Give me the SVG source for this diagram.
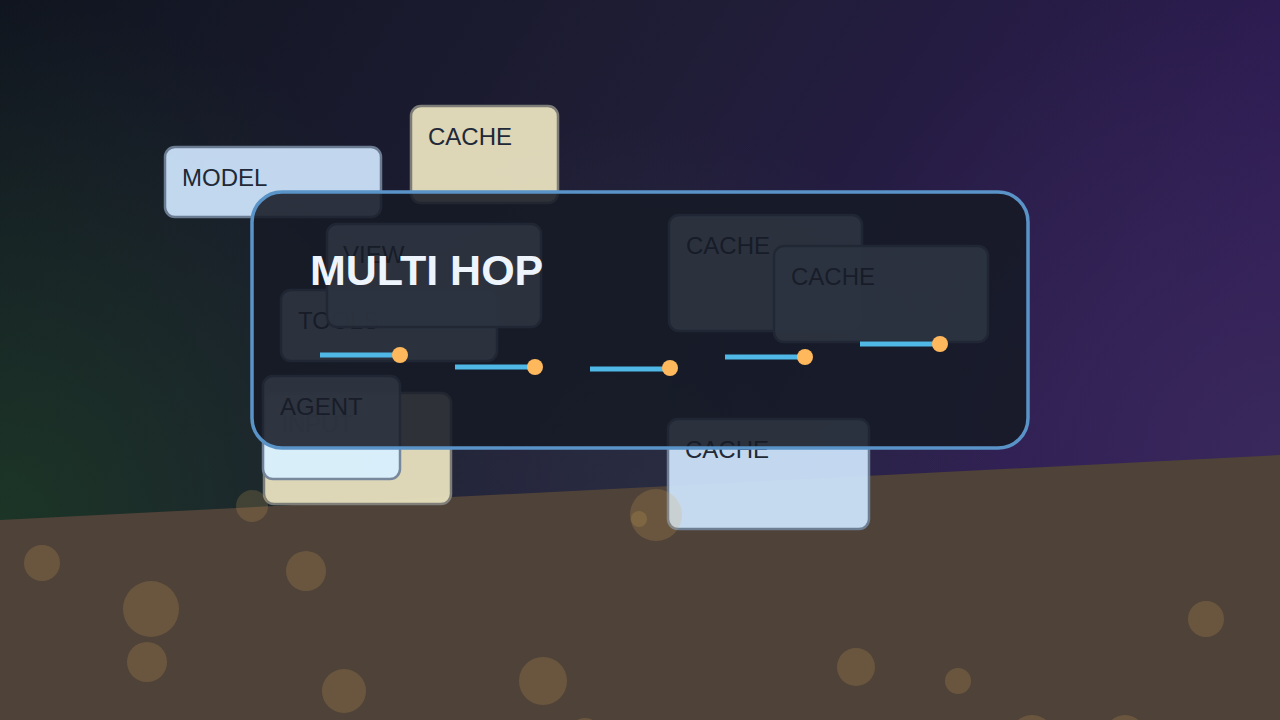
<svg xmlns="http://www.w3.org/2000/svg" width="1280" height="720" viewBox="0 0 1280 720">
<defs>
<linearGradient id="sky" x1="0" y1="0" x2="1" y2="0.35">
<stop offset="0" stop-color="#10151f"/>
<stop offset="0.5" stop-color="#1f1d36"/>
<stop offset="1" stop-color="#2e1a56"/>
</linearGradient>
<radialGradient id="glowG" cx="0" cy="520" r="520" gradientUnits="userSpaceOnUse">
<stop offset="0" stop-color="#1d3a26" stop-opacity="0.85"/>
<stop offset="1" stop-color="#1d3a26" stop-opacity="0"/>
</radialGradient>
<radialGradient id="glowP" cx="1280" cy="460" r="500" gradientUnits="userSpaceOnUse">
<stop offset="0" stop-color="#3c2c5c" stop-opacity="0.8"/>
<stop offset="1" stop-color="#3c2c5c" stop-opacity="0"/>
</radialGradient>
<radialGradient id="glowM" cx="640" cy="480" r="360" gradientUnits="userSpaceOnUse">
<stop offset="0" stop-color="#2a3040" stop-opacity="0.8"/>
<stop offset="1" stop-color="#2a3040" stop-opacity="0"/>
</radialGradient>
</defs>
<style>
.node{opacity:0.93}
.node rect{stroke-width:2.5}
.blue rect{fill:#cfe6fd;stroke:#71839a}
.lblue rect{fill:#d8f0ff;stroke:#71839a}
.sand rect{fill:#ece5c2;stroke:#84847e}
.node text{font-family:"Liberation Sans",Arial,sans-serif;font-size:24px;fill:#222a38}
.speck{fill:#d7aa5a;fill-opacity:0.2}
.wire{stroke:#4fb8e6;stroke-width:5;fill:none}
.dot{fill:#ffb85c}
</style>
<rect width="1280" height="720" fill="url(#sky)"/>
<rect width="1280" height="720" fill="url(#glowG)"/>
<rect width="1280" height="720" fill="url(#glowP)"/>
<rect width="1280" height="720" fill="url(#glowM)"/>
<polygon points="0,520 1280,455 1280,720 0,720" fill="#4f4238"/>

<g id="node-model" class="node blue"><rect x="165" y="147" width="216" height="70" rx="10"/><text x="182" y="186">MODEL</text></g>
<g id="node-cache-top" class="node sand"><rect x="411" y="106" width="147" height="97" rx="10"/><text x="428" y="145">CACHE</text></g>
<g id="node-tools" class="node blue"><rect x="281" y="290" width="216" height="71" rx="10"/><text x="298" y="329">TOOLS</text></g>
<g id="node-view" class="node blue"><rect x="327" y="224" width="214" height="103" rx="10"/><text x="343" y="263">VIEW</text></g>
<g id="node-input" class="node sand"><rect x="264" y="393" width="187" height="111" rx="10"/><text x="281" y="432">INPUT</text></g>
<g id="node-agent" class="node lblue"><rect x="263" y="376" width="137" height="103" rx="10"/><text x="280" y="415">AGENT</text></g>
<g id="node-cache-1" class="node blue"><rect x="669" y="215" width="193" height="116" rx="10"/><text x="686" y="254">CACHE</text></g>
<g id="node-cache-2" class="node blue"><rect x="774" y="246" width="214" height="96" rx="10"/><text x="791" y="285">CACHE</text></g>
<g id="node-cache-bottom" class="node blue"><rect x="668" y="419" width="201" height="110" rx="10"/><text x="685" y="458">CACHE</text></g>

<g id="specks">
<circle class="speck" cx="42" cy="563" r="18"/>
<circle class="speck" cx="151" cy="609" r="28"/>
<circle class="speck" cx="147" cy="662" r="20"/>
<circle class="speck" cx="306" cy="571" r="20"/>
<circle class="speck" cx="252" cy="506" r="16"/>
<circle class="speck" cx="344" cy="691" r="22"/>
<circle class="speck" cx="543" cy="681" r="24"/>
<circle class="speck" cx="585" cy="734" r="16"/>
<circle class="speck" cx="656" cy="515" r="26"/>
<circle class="speck" cx="639" cy="519" r="8"/>
<circle class="speck" cx="856" cy="667" r="19"/>
<circle class="speck" cx="958" cy="681" r="13"/>
<circle class="speck" cx="1206" cy="619" r="18"/>
<circle class="speck" cx="1032" cy="737" r="22"/>
<circle class="speck" cx="1125" cy="735" r="20"/>
</g>

<g id="panel">
<rect x="252" y="192" width="776" height="256" rx="30" fill="#161a26" fill-opacity="0.88" stroke="#5a93c8" stroke-width="3.5"/>
<text x="310" y="285" font-family="Liberation Sans,Arial,sans-serif" font-size="43" font-weight="bold" fill="#eef4fc">MULTI HOP</text>
</g>

<g id="connectors">
<line class="wire" x1="320" y1="355" x2="400" y2="355"/><circle class="dot" cx="400" cy="355" r="8"/>
<line class="wire" x1="455" y1="367" x2="535" y2="367"/><circle class="dot" cx="535" cy="367" r="8"/>
<line class="wire" x1="590" y1="369" x2="670" y2="369"/><circle class="dot" cx="670" cy="368" r="8"/>
<line class="wire" x1="725" y1="357" x2="805" y2="357"/><circle class="dot" cx="805" cy="357" r="8"/>
<line class="wire" x1="860" y1="344" x2="940" y2="344"/><circle class="dot" cx="940" cy="344" r="8"/>
</g>
</svg>
